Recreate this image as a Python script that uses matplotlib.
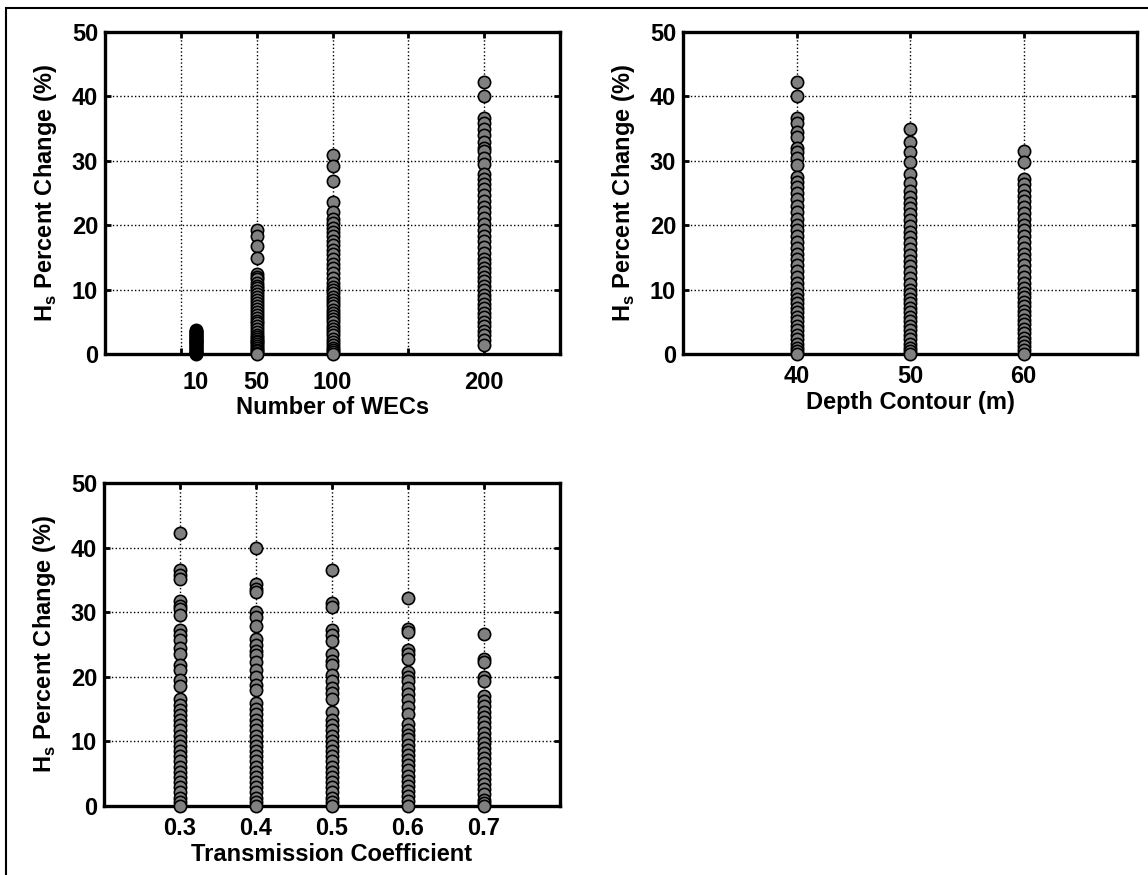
import numpy as np
import matplotlib.pyplot as plt
from matplotlib.patches import Rectangle

plt.rcParams['font.family'] = ['Liberation Sans', 'DejaVu Sans']
plt.rcParams['font.weight'] = 'bold'
plt.rcParams['axes.labelweight'] = 'bold'
plt.rcParams['mathtext.fontset'] = 'custom'
plt.rcParams['mathtext.rm'] = 'Liberation Sans:bold'

# ---- data (Hs percent change, %) ----
# panel a: number of WECs
wec_10 = [0.0, 0.1, 0.2, 0.3, 0.45, 0.6, 0.75, 0.9, 1.05, 1.2, 1.35, 1.5, 1.65,
          1.8, 1.95, 2.1, 2.25, 2.4, 2.55, 2.7, 2.85, 3.0, 3.15, 3.3, 3.45,
          3.6, 3.8]
wec_50 = [19.3, 18.3, 16.8, 14.9, 12.4, 12.0, 11.6, 11.1, 10.6, 10.2, 9.8, 9.3,
          8.9, 8.4, 8.0, 7.5, 7.0, 6.6, 6.1, 5.6, 5.2, 4.8, 4.3, 3.9, 3.4, 3.0,
          2.7, 2.4, 2.1, 1.8, 1.5, 1.2, 0.9, 0.6, 0.4, 0.2, 0.0]
wec_100 = [30.9, 29.2, 26.8, 23.6, 22.0, 21.0, 20.3, 19.6, 19.0, 18.3, 17.6,
           16.9, 16.2, 15.5, 14.8, 14.0, 13.3, 12.6, 11.8, 11.1, 10.4, 9.9,
           9.4, 8.9, 8.4, 7.9, 7.4, 6.9, 6.4, 5.9, 5.4, 4.9, 4.4, 3.9, 3.4,
           2.9, 2.4, 1.9, 1.4, 1.0, 0.6, 0.3, 0.0]
wec_200 = [42.3, 40.0, 36.6, 35.8, 35.0, 34.0, 33.0, 32.0, 31.5, 30.5, 29.5,
           28.0, 27.2, 26.4, 25.6, 24.7, 23.8, 22.9, 22.0, 21.1, 20.2, 19.3,
           18.4, 17.5, 16.6, 15.7, 14.8, 14.1, 13.4, 12.7, 12.0, 11.3, 10.6,
           9.9, 9.2, 8.5, 7.8, 7.1, 6.4, 5.7, 5.0, 4.3, 3.6, 2.9, 2.2, 1.4]
wec_groups = [10, 50, 100, 200]
wec_values = [wec_10, wec_50, wec_100, wec_200]
wec_labels = ['10', '50', '100', '200']
wec_grid = [0, 50, 100, 150, 200]

# panel b: depth contour (m)
depth_40 = [42.3, 40.0, 36.7, 35.8, 34.5, 33.7, 32.0, 31.3, 30.5, 29.3, 27.5,
            26.7, 25.9, 25.0, 24.0, 23.0, 22.0, 21.0, 20.0, 19.2, 18.3, 17.4,
            16.5, 15.6, 14.7, 13.8, 12.9, 12.0, 11.1, 10.2, 9.3, 8.6, 7.9, 7.2,
            6.5, 5.8, 5.1, 4.4, 3.7, 3.0, 2.3, 1.6, 1.0, 0.5, 0.0]
depth_50 = [35.0, 33.0, 31.4, 29.8, 28.0, 26.5, 25.3, 24.4, 23.5, 22.6, 21.7,
            20.8, 19.9, 19.0, 18.1, 17.2, 16.3, 15.4, 14.5, 13.6, 12.7, 11.8,
            10.9, 10.0, 9.3, 8.6, 7.9, 7.2, 6.5, 5.8, 5.1, 4.4, 3.7, 3.0, 2.3,
            1.6, 1.0, 0.4, 0.0]
depth_60 = [31.5, 29.8, 27.2, 26.4, 25.5, 24.6, 23.7, 22.8, 21.9, 21.0, 20.1,
            19.2, 18.3, 17.4, 16.5, 15.6, 14.7, 13.8, 12.9, 12.0, 11.1, 10.2,
            9.5, 8.8, 8.1, 7.4, 6.7, 6.0, 5.3, 4.6, 3.9, 3.2, 2.5, 1.8, 1.2,
            0.6, 0.0]
depth_groups = [40, 50, 60]
depth_values = [depth_40, depth_50, depth_60]

# panel c: transmission coefficient
kt_03 = [42.3, 36.5, 35.8, 35.2, 31.8, 31.0, 30.5, 29.5, 27.2, 26.5, 25.7,
         24.5, 23.6, 21.8, 21.0, 19.5, 18.5, 16.5, 15.7, 14.9, 14.1, 13.3,
         12.5, 11.7, 10.9, 10.1, 9.3, 8.5, 7.7, 6.9, 6.1, 5.3, 4.5, 3.7, 2.9,
         2.1, 1.3, 0.6, 0.0]
kt_04 = [40.0, 34.4, 33.6, 33.2, 30.0, 29.3, 27.8, 25.8, 25.0, 24.0, 23.4,
         22.3, 21.0, 20.0, 18.8, 18.0, 16.0, 15.0, 14.2, 13.3, 12.5, 11.7,
         10.9, 10.1, 9.3, 8.5, 7.7, 6.9, 6.1, 5.3, 4.5, 3.7, 2.9, 2.1, 1.3,
         0.6, 0.0]
kt_05 = [36.6, 31.5, 30.8, 27.2, 26.5, 25.5, 23.5, 22.5, 21.8, 20.3, 19.4,
         18.3, 17.5, 16.5, 14.5, 13.3, 12.5, 11.7, 10.9, 10.1, 9.3, 8.5, 7.7,
         6.9, 6.1, 5.3, 4.5, 3.7, 2.9, 2.1, 1.3, 0.6, 0.0]
kt_06 = [32.2, 27.4, 27.0, 24.2, 23.5, 22.7, 20.7, 20.0, 19.3, 18.3, 17.3,
         16.4, 15.3, 14.3, 12.7, 11.8, 11.0, 10.3, 9.5, 8.7, 7.9, 7.1, 6.3,
         5.5, 4.7, 3.9, 3.1, 2.3, 1.5, 0.8, 0.0]
kt_07 = [26.6, 22.7, 22.3, 20.0, 19.4, 17.0, 16.3, 15.5, 14.6, 13.8, 13.0,
         12.2, 11.3, 10.5, 9.8, 9.0, 8.2, 7.4, 6.6, 5.8, 5.0, 4.2, 3.4, 2.6,
         1.8, 1.0, 0.4, 0.0]
kt_groups = [0.3, 0.4, 0.5, 0.6, 0.7]
kt_values = [kt_03, kt_04, kt_05, kt_06, kt_07]
kt_labels = ['0.3', '0.4', '0.5', '0.6', '0.7']

ylabel = r'H$_{\mathregular{s}}$ Percent Change (%)'
FS = 17


def style_axes(ax):
    ax.set_ylim(0, 50)
    ax.set_yticks([0, 10, 20, 30, 40, 50])
    ax.grid(True, axis='y', linestyle=':', color='black', linewidth=1.0)
    ax.tick_params(axis='y', direction='in', length=4, width=2,
                   left=True, right=True, labelsize=FS, pad=5)
    ax.tick_params(axis='x', which='major', direction='in', length=4, width=2,
                   top=True, bottom=True, labelsize=FS, pad=8)
    for sp in ax.spines.values():
        sp.set_linewidth(2.4)
    ax.set_ylabel(ylabel, fontsize=FS, fontweight='bold', labelpad=9)


def draw_columns(ax, groups, values, dark=()):
    for g, vals in zip(groups, values):
        face = 'black' if g in dark else '#808080'
        ax.scatter(np.full(len(vals), g), vals, s=78, c=face,
                   edgecolors='black', linewidths=1.2, zorder=3, clip_on=False)


fig = plt.figure(figsize=(11.48, 8.75), dpi=100)

# panel a: grid/tick marks at 0..200 step 50, labels at the array sizes
ax1 = fig.add_axes([0.0915, 0.5954, 0.3963, 0.368])
draw_columns(ax1, wec_groups, wec_values, dark=(10,))
ax1.set_xlim(-50, 250)
style_axes(ax1)
ax1.xaxis.remove_overlapping_locs = False
ax1.set_xticks(wec_groups)
ax1.set_xticklabels(wec_labels)
ax1.tick_params(axis='x', which='major', length=0, pad=12)
ax1.set_xticks(wec_grid, minor=True)
ax1.tick_params(axis='x', which='minor', direction='in', length=4, width=2,
                top=True, bottom=True)
ax1.grid(True, axis='x', which='minor', linestyle=':', color='black',
         linewidth=1.0)
ax1.set_xlabel('Number of WECs', fontsize=FS, fontweight='bold', labelpad=2)

# panel b
ax2 = fig.add_axes([0.595, 0.5954, 0.3955, 0.368])
draw_columns(ax2, depth_groups, depth_values)
ax2.set_xlim(30, 70)
ax2.set_xticks(depth_groups)
style_axes(ax2)
ax2.grid(True, axis='x', linestyle=':', color='black', linewidth=1.0)
ax2.set_xlabel('Depth Contour (m)', fontsize=FS, fontweight='bold', labelpad=2)

# panel c
ax3 = fig.add_axes([0.0906, 0.0789, 0.397, 0.369])
draw_columns(ax3, kt_groups, kt_values)
ax3.set_xlim(0.2, 0.8)
ax3.set_xticks(kt_groups)
ax3.set_xticklabels(kt_labels)
style_axes(ax3)
ax3.grid(True, axis='x', linestyle=':', color='black', linewidth=1.0)
ax3.set_xlabel('Transmission Coefficient', fontsize=FS, fontweight='bold',
               labelpad=2)

# thin frame around the whole figure
fig.add_artist(Rectangle((6 / 1148, -0.01), 1.1, 0.9914 + 0.01,
                         transform=fig.transFigure, fill=False,
                         edgecolor='black', linewidth=1.5))

fig.savefig('out.png', dpi=100)
